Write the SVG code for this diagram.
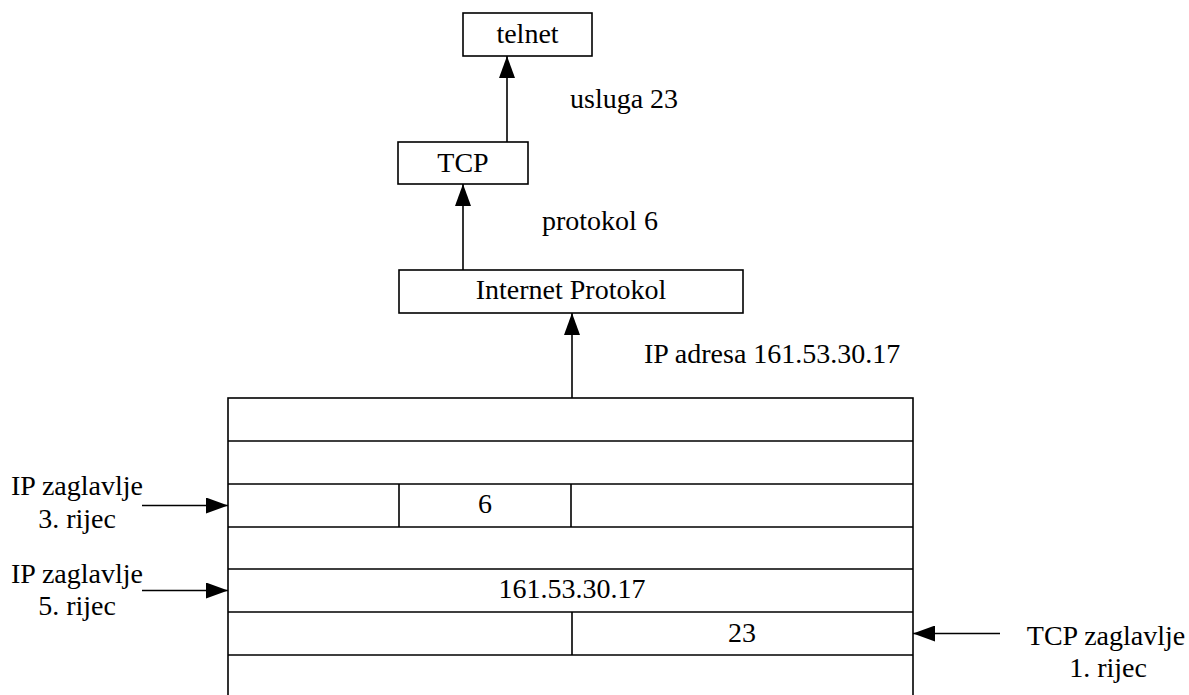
<svg xmlns="http://www.w3.org/2000/svg" width="1189" height="695" viewBox="0 0 1189 695">
  <style>
    .box { fill: #fff; stroke: #000; stroke-width: 1.6; }
    .ln { fill: none; stroke: #000; stroke-width: 1.6; }
    .t { font-family: "Liberation Serif", "Times New Roman", serif; font-size: 28px; fill: #000; }
    .c { text-anchor: middle; }
  </style>
  <defs>
    <marker id="arr" viewBox="0 0 22 16" refX="22" refY="8" markerWidth="22" markerHeight="16" markerUnits="userSpaceOnUse" orient="auto">
      <path d="M0,0 L22,8 L0,16 Z" fill="#000"/>
    </marker>
  </defs>
  <rect width="1189" height="695" fill="#fff"/>

  <!-- protocol stack -->
  <g id="telnet">
    <rect class="box" x="463" y="13" width="129" height="43"/>
    <text class="t c" x="527.5" y="43">telnet</text>
  </g>
  <g id="tcp">
    <rect class="box" x="398" y="142" width="130" height="42"/>
    <text class="t c" x="463" y="172">TCP</text>
  </g>
  <g id="ip">
    <rect class="box" x="399" y="270" width="344" height="43"/>
    <text class="t c" x="571" y="299">Internet Protokol</text>
  </g>

  <!-- datagram words -->
  <g id="datagram">
    <rect class="box" x="228" y="398" width="685" height="302"/>
    <path class="ln" d="M228,441 H913 M228,484 H913 M228,527 H913 M228,569 H913 M228,612 H913 M228,655 H913"/>
    <path class="ln" d="M399,484 V527 M571,484 V527 M572,612 V655"/>
    <text class="t c" x="485" y="513">6</text>
    <text class="t c" x="572" y="598">161.53.30.17</text>
    <text class="t c" x="742" y="642">23</text>
  </g>

  <!-- connectors -->
  <g id="connectors">
    <line class="ln" x1="507" y1="142" x2="507" y2="56" marker-end="url(#arr)"/>
    <line class="ln" x1="463" y1="270" x2="463" y2="184" marker-end="url(#arr)"/>
    <line class="ln" x1="572" y1="398" x2="572" y2="313" marker-end="url(#arr)"/>
    <line class="ln" x1="142" y1="505.5" x2="228" y2="505.5" marker-end="url(#arr)"/>
    <line class="ln" x1="142" y1="590.5" x2="228" y2="590.5" marker-end="url(#arr)"/>
    <line class="ln" x1="1000" y1="633.5" x2="913" y2="633.5" marker-end="url(#arr)"/>
  </g>

  <!-- labels -->
  <g id="labels">
    <text class="t" x="570" y="108">usluga 23</text>
    <text class="t" x="542" y="230">protokol 6</text>
    <text class="t" x="644" y="363">IP adresa 161.53.30.17</text>
    <text class="t c" x="77" y="495">IP zaglavlje</text>
    <text class="t c" x="77" y="528">3. rijec</text>
    <text class="t c" x="77" y="583">IP zaglavlje</text>
    <text class="t c" x="77" y="615">5. rijec</text>
    <text class="t c" x="1106" y="645">TCP zaglavlje</text>
    <text class="t c" x="1108" y="677">1. rijec</text>
  </g>
</svg>
